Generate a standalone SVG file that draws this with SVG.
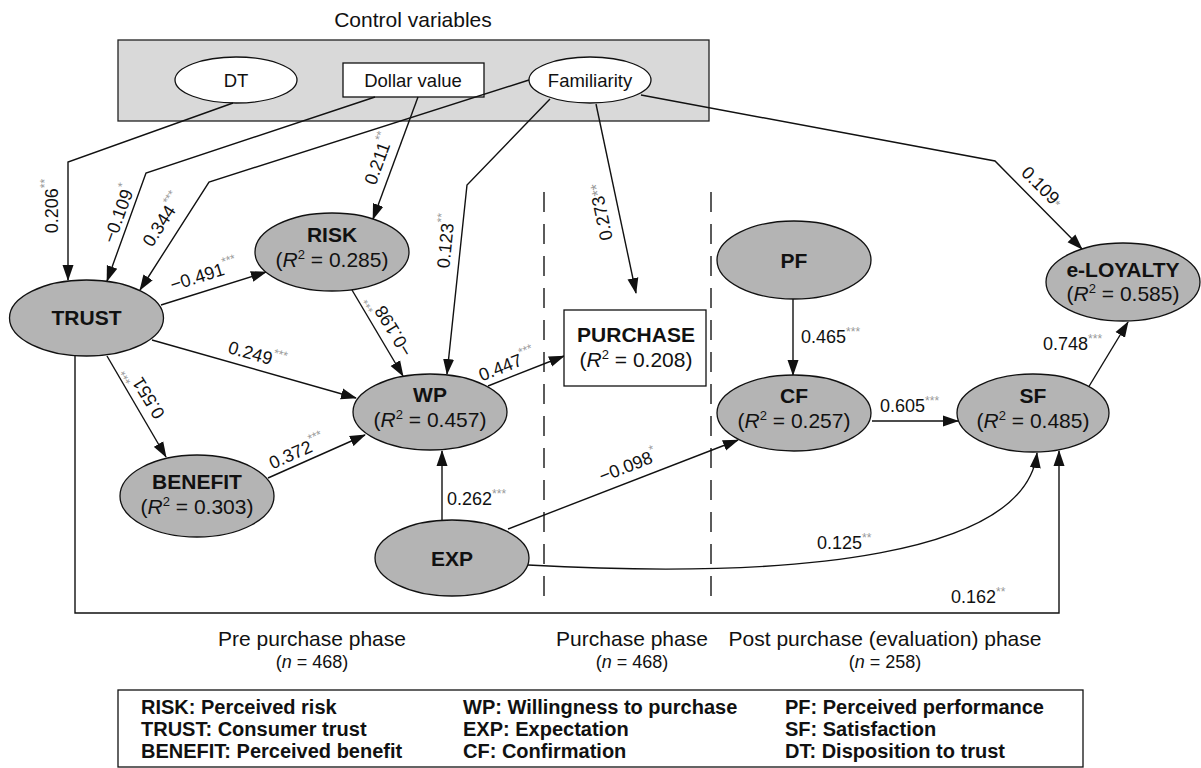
<svg xmlns="http://www.w3.org/2000/svg" width="1201" height="768" viewBox="0 0 1201 768">
<style>
text{font-family:"Liberation Sans",Arial,sans-serif;fill:#111}
.nb{font-size:21px;font-weight:bold;text-anchor:middle}
.nr{font-size:21px;text-anchor:middle}
.cv{font-size:18.5px;text-anchor:middle}
.el{font-size:18px}
.er{font-size:18px;text-anchor:middle;dominant-baseline:central}
.st{fill:#999;font-size:12px}
.ph{font-size:21px;text-anchor:middle}
.nn{font-size:18px;text-anchor:middle}
.lg{font-size:20px;font-weight:bold}
.gn{fill:#b4b4b4;stroke:#111;stroke-width:1.3}
.wn{fill:#fff;stroke:#111;stroke-width:1.3}
.cn{fill:none;stroke:#111;stroke-width:1.4}
.ds{stroke:#333;stroke-width:1.6;stroke-dasharray:20 12}
</style>
<defs>
<marker id="ah" markerWidth="16" markerHeight="12" refX="15" refY="6" orient="auto" markerUnits="userSpaceOnUse"><path d="M0,0.5 L16,6 L0,11.5 z" fill="#111"/></marker>
</defs>

<text x="413" y="27" class="ph">Control variables</text>
<g id="controls">
<rect x="118" y="40" width="591" height="81" fill="#d9d9d9" stroke="#222" stroke-width="1.3"/>
</g>
<g id="DT"><ellipse cx="236" cy="80" rx="61" ry="23" class="wn"/><text x="236" y="87" class="cv">DT</text></g>
<g id="DollarValue"><rect x="343" y="63" width="141" height="34" class="wn"/><text x="413" y="87" class="cv">Dollar value</text></g>
<g id="Familiarity"><ellipse cx="590" cy="80" rx="61" ry="23" class="wn"/><text x="590" y="87" class="cv">Familiarity</text></g>

<g id="phases">
<line x1="544" y1="192" x2="544" y2="600" class="ds"/>
<line x1="711" y1="192" x2="711" y2="600" class="ds"/>
</g>

<g id="connectors">
<path d="M233,103 L68,162 V280" class="cn" marker-end="url(#ah)"/>
<path d="M375,97 L146,173 L107,281" class="cn" marker-end="url(#ah)"/>
<path d="M529,80 L209,182 L140,290" class="cn" marker-end="url(#ah)"/>
<path d="M418,97 L373,219" class="cn" marker-end="url(#ah)"/>
<path d="M550,99 L467,185 L447,374" class="cn" marker-end="url(#ah)"/>
<path d="M596,104 L636,293" class="cn" marker-end="url(#ah)"/>
<path d="M641,95 L995,161 L1082,249" class="cn" marker-end="url(#ah)"/>
<path d="M161,305 L266,272" class="cn" marker-end="url(#ah)"/>
<path d="M152,340 L356,398" class="cn" marker-end="url(#ah)"/>
<path d="M107,356 L166,457" class="cn" marker-end="url(#ah)"/>
<path d="M352,290 L403,376" class="cn" marker-end="url(#ah)"/>
<path d="M268,478 L365,435" class="cn" marker-end="url(#ah)"/>
<path d="M488,386 L564,356" class="cn" marker-end="url(#ah)"/>
<path d="M508,529 L738,440" class="cn" marker-end="url(#ah)"/>
<path d="M442,520 V451" class="cn" marker-end="url(#ah)"/>
<path d="M793,299 V375" class="cn" marker-end="url(#ah)"/>
<path d="M872,421 H958" class="cn" marker-end="url(#ah)"/>
<path d="M1088,388 L1128,322" class="cn" marker-end="url(#ah)"/>
<path d="M528,565 C800,580 1025,555 1037,453" class="cn" marker-end="url(#ah)"/>
<path d="M75,356 V613 H1059 V451" class="cn" marker-end="url(#ah)"/>

<text class="er" transform="translate(52,206) rotate(-90)">0.206<tspan class="st" dy="-7">**</tspan></text>
<text class="er" transform="translate(119,214) rotate(-70)">−0.109<tspan class="st" dy="-7">*</tspan></text>
<text class="er" transform="translate(163,220) rotate(-57)">0.344<tspan class="st" dy="-7">***</tspan></text>
<text class="er" transform="translate(379,159) rotate(-69.6)">0.211<tspan class="st" dy="-7">**</tspan></text>
<text class="er" transform="translate(446,241) rotate(-84)">0.123<tspan class="st" dy="-7">**</tspan></text>
<text class="er" transform="translate(601,212) rotate(-101.7)">0.273<tspan fill="#999" font-size="16">**</tspan></text>
<text class="er" transform="translate(1042,187) rotate(45)">0.109<tspan class="st" dy="2">*</tspan></text>
<text class="er" transform="translate(204,275) rotate(-17.3)">−0.491<tspan class="st" dy="-7">***</tspan></text>
<text class="er" transform="translate(257,355) rotate(16)">0.249<tspan class="st" dy="-7">***</tspan></text>
<text class="er" transform="translate(145,392) rotate(-121.5)">0.551<tspan class="st" dy="-7">***</tspan></text>
<text class="er" transform="translate(390,325) rotate(-121)">−0.198<tspan class="st" dy="-7">***</tspan></text>
<text class="er" transform="translate(297,452) rotate(-23.9)">0.372<tspan class="st" dy="-7">***</tspan></text>
<text class="er" transform="translate(507,365) rotate(-21.5)">0.447<tspan class="st" dy="-7">***</tspan></text>
<text class="er" transform="translate(628,466) rotate(-21.2)">−0.098<tspan class="st" dy="-7">*</tspan></text>
<text class="el" x="447" y="505">0.262<tspan class="st" dy="-7">***</tspan></text>
<text class="el" x="801" y="343">0.465<tspan class="st" dy="-7">***</tspan></text>
<text class="el" x="880" y="412">0.605<tspan class="st" dy="-7">***</tspan></text>
<text class="el" x="1043" y="350">0.748<tspan class="st" dy="-7">***</tspan></text>
<text class="el" x="817" y="549">0.125<tspan class="st" dy="-7">**</tspan></text>
<text class="el" x="951" y="603">0.162<tspan class="st" dy="-7">**</tspan></text>
</g>

<g id="TRUST"><ellipse cx="86.5" cy="318" rx="77" ry="38" class="gn"/><text x="86.5" y="325" class="nb">TRUST</text></g>
<g id="RISK"><ellipse cx="332" cy="252" rx="77" ry="39" class="gn"/><text x="332" y="242" class="nb">RISK</text><text x="332" y="267" class="nr">(<tspan font-style="italic">R</tspan><tspan font-size="13" dy="-8">2</tspan><tspan dy="8"> = 0.285)</tspan></text></g>
<g id="WP"><ellipse cx="430" cy="412" rx="77" ry="38" class="gn"/><text x="430" y="402" class="nb">WP</text><text x="430" y="427" class="nr">(<tspan font-style="italic">R</tspan><tspan font-size="13" dy="-8">2</tspan><tspan dy="8"> = 0.457)</tspan></text></g>
<g id="BENEFIT"><ellipse cx="197" cy="496" rx="77" ry="41" class="gn"/><text x="197" y="489" class="nb">BENEFIT</text><text x="197" y="514" class="nr">(<tspan font-style="italic">R</tspan><tspan font-size="13" dy="-8">2</tspan><tspan dy="8"> = 0.303)</tspan></text></g>
<g id="EXP"><ellipse cx="452" cy="558" rx="77" ry="38" class="gn"/><text x="452" y="566" class="nb">EXP</text></g>
<g id="PURCHASE"><rect x="564" y="310" width="142" height="76" fill="#fff" stroke="#111" stroke-width="1.3"/><text x="636" y="342" class="nb">PURCHASE</text><text x="636" y="367" class="nr">(<tspan font-style="italic">R</tspan><tspan font-size="13" dy="-8">2</tspan><tspan dy="8"> = 0.208)</tspan></text></g>
<g id="PF"><ellipse cx="794" cy="260" rx="77" ry="39" class="gn"/><text x="794" y="268" class="nb">PF</text></g>
<g id="CF"><ellipse cx="794" cy="413" rx="77" ry="38" class="gn"/><text x="794" y="403" class="nb">CF</text><text x="794" y="428" class="nr">(<tspan font-style="italic">R</tspan><tspan font-size="13" dy="-8">2</tspan><tspan dy="8"> = 0.257)</tspan></text></g>
<g id="SF"><ellipse cx="1033" cy="413" rx="76" ry="39" class="gn"/><text x="1033" y="403" class="nb">SF</text><text x="1033" y="428" class="nr">(<tspan font-style="italic">R</tspan><tspan font-size="13" dy="-8">2</tspan><tspan dy="8"> = 0.485)</tspan></text></g>
<g id="eLOYALTY"><ellipse cx="1123" cy="282" rx="77" ry="39" class="gn"/><text x="1123" y="277" class="nb">e-LOYALTY</text><text x="1123" y="301" class="nr">(<tspan font-style="italic">R</tspan><tspan font-size="13" dy="-8">2</tspan><tspan dy="8"> = 0.585)</tspan></text></g>

<g id="phaseLabels">
<text x="312" y="646" class="ph">Pre purchase phase</text>
<text x="312" y="668" class="nn">(<tspan font-style="italic">n</tspan> = 468)</text>
<text x="632" y="646" class="ph">Purchase phase</text>
<text x="632" y="668" class="nn">(<tspan font-style="italic">n</tspan> = 468)</text>
<text x="885" y="646" class="ph">Post purchase (evaluation) phase</text>
<text x="885" y="668" class="nn">(<tspan font-style="italic">n</tspan> = 258)</text>
</g>

<g id="legend">
<rect x="118" y="690" width="965" height="77" fill="#fff" stroke="#111" stroke-width="1.3"/>
<text x="141" y="714" class="lg">RISK: Perceived risk</text>
<text x="141" y="736" class="lg">TRUST: Consumer trust</text>
<text x="141" y="758" class="lg">BENEFIT: Perceived benefit</text>
<text x="463" y="714" class="lg">WP: Willingness to purchase</text>
<text x="463" y="736" class="lg">EXP: Expectation</text>
<text x="463" y="758" class="lg">CF: Confirmation</text>
<text x="785" y="714" class="lg">PF: Perceived performance</text>
<text x="785" y="736" class="lg">SF: Satisfaction</text>
<text x="785" y="758" class="lg">DT: Disposition to trust</text>
</g>
</svg>
